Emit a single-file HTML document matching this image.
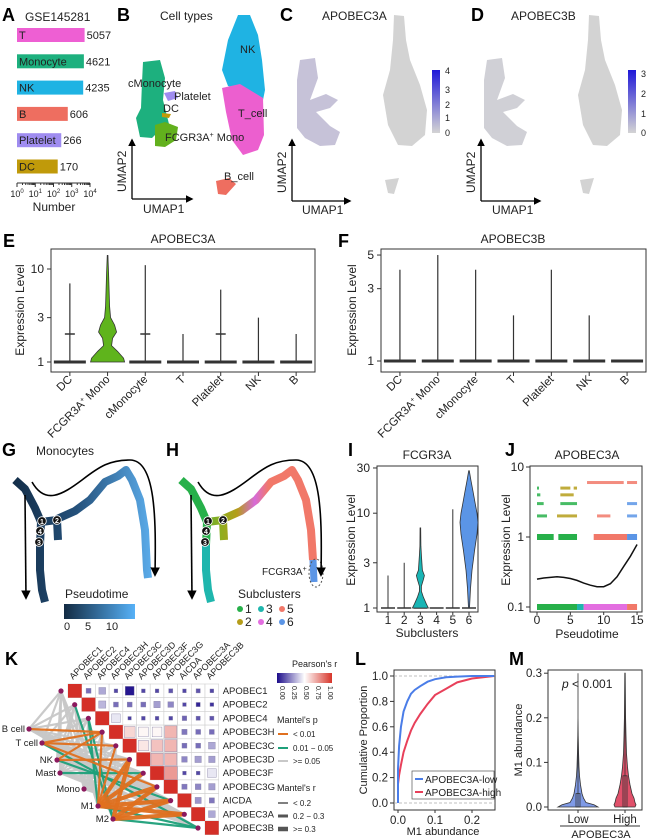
<!DOCTYPE html>
<html><head><meta charset="utf-8">
<style>
html,body{margin:0;padding:0;background:#fff;}
svg{display:block;font-family:"Liberation Sans",Arial,sans-serif;}
.pl{font-weight:bold;font-size:18px;}
.t{font-size:11px;fill:#222;}
.ts{font-size:9px;fill:#222;}
.ax{stroke:#333;stroke-width:1;fill:none;}
</style></head>
<body>
<svg id="fig" width="652" height="840" viewBox="0 0 652 840" xmlns="http://www.w3.org/2000/svg">
<defs>
<marker id="arr" viewBox="0 0 10 10" refX="8" refY="5" markerWidth="6" markerHeight="6" orient="auto"><path d="M0,0 L10,5 L0,10 z" fill="#000"/></marker>
<linearGradient id="ptg" x1="0" x2="1" y1="0" y2="0"><stop offset="0" stop-color="#132b43"/><stop offset="1" stop-color="#56b1f7"/></linearGradient>
<linearGradient id="trajG" gradientUnits="userSpaceOnUse" x1="15" x2="150" y1="0" y2="0"><stop offset="0" stop-color="#142f4a"/><stop offset="0.45" stop-color="#24507a"/><stop offset="1" stop-color="#5aaae8"/></linearGradient>
<linearGradient id="trajH" gradientUnits="userSpaceOnUse" x1="180" x2="316" y1="0" y2="0"><stop offset="0" stop-color="#27b04a"/><stop offset="0.3" stop-color="#8fae1f"/><stop offset="0.42" stop-color="#b59d1a"/><stop offset="0.55" stop-color="#d66ad8"/><stop offset="0.65" stop-color="#f17869"/><stop offset="1" stop-color="#f17869"/></linearGradient>
<linearGradient id="cbar" x1="0" x2="0" y1="1" y2="0"><stop offset="0" stop-color="#d4d4d4"/><stop offset="1" stop-color="#1f18d8"/></linearGradient>
<linearGradient id="prs" x1="0" x2="1" y1="0" y2="0"><stop offset="0" stop-color="#1c0c8a"/><stop offset="0.5" stop-color="#ffffff"/><stop offset="1" stop-color="#d7352a"/></linearGradient>
</defs>

<!-- Panel A -->
<g>
<text class="pl" x="2" y="21">A</text>
<text class="t" x="25" y="21" style="font-size:12px">GSE145281</text>
<g id="barsA"></g>
<line class="ax" x1="17" y1="183" x2="90" y2="183"/>
<g id="ticksA"></g>
<text class="t" x="54" y="211" text-anchor="middle" style="font-size:12px">Number</text>
</g>

<!-- Panel B -->
<g>
<text class="pl" x="117" y="21">B</text>
<text class="t" x="160" y="20" style="font-size:12px">Cell types</text>
<g id="umapB">
<path d="M143,62 L160,60 L165,78 L163,100 L168,120 L170,128 L160,130 L152,138 L140,137 L136,118 L141,108 L142,82 Z" fill="#1db07e"/>
<path d="M155,125 L165,122 L178,127 L176,140 L165,147 L155,146 Z" fill="#62b01d"/>
<path d="M164,93 L175,91 L178,98 L168,101 Z" fill="#9f8cf0"/>
<path d="M162,113 L171,114 L169,118 L162,117 Z" fill="#c09a0a"/>
<path d="M238,15 L250,15 L258,35 L262,60 L265,90 L263,100 L248,92 L228,86 L222,70 L228,40 Z" fill="#1fb3e3"/>
<path d="M222,88 L240,84 L263,98 L264,135 L258,150 L243,155 L232,140 L226,112 Z" fill="#ec5fcf"/>
<path d="M216,181 L229,178 L236,184 L226,195 L218,194 Z" fill="#ee6e60"/>
</g>
<text class="t" x="240" y="53">NK</text>
<text class="t" x="128" y="87">cMonocyte</text>
<text class="t" x="174" y="100">Platelet</text>
<text class="t" x="163" y="112">DC</text>
<text class="t" x="165" y="141">FCGR3A<tspan dy="-4" style="font-size:7px">+</tspan><tspan dy="4"> Mono</tspan></text>
<text class="t" x="238" y="117">T_cell</text>
<text class="t" x="224" y="180">B_cell</text>
<path d="M132,199 L132,140" stroke="#000" stroke-width="1.3" marker-end="url(#arr)"/>
<path d="M132,199 L192,199" stroke="#000" stroke-width="1.3" marker-end="url(#arr)"/>
<text class="t" transform="translate(126,192) rotate(-90)" style="font-size:12px">UMAP2</text>
<text class="t" x="143" y="213" style="font-size:12px">UMAP1</text>
</g>

<!-- Panel C & D -->
<g>
<text class="pl" x="280" y="21">C</text>
<text class="t" x="322" y="20" style="font-size:12px">APOBEC3A</text>
<path d="M300,60 L315,58 L318,78 L310,100 L326,94 L338,100 L330,108 L316,112 L330,126 L340,132 L335,145 L320,146 L305,138 L297,128 L297,80 Z" fill="#c6c2d8"/>
<path d="M394,15 L404,16 L406,40 L410,60 L420,85 L427,110 L425,135 L412,146 L398,145 L388,125 L383,95 L390,70 L393,40 Z" fill="#d3d3d3"/>
<path d="M385,180 L399,178 L394,194 L388,193 Z" fill="#d3d3d3"/>
<rect x="432" y="70" width="8" height="63" fill="url(#cbar)"/>
<text class="ts" x="445" y="74">4</text><text class="ts" x="445" y="93">3</text><text class="ts" x="445" y="108">2</text><text class="ts" x="445" y="121">1</text><text class="ts" x="445" y="136">0</text>
<path d="M292,201 L292,140" stroke="#000" stroke-width="1.3" marker-end="url(#arr)"/>
<path d="M292,201 L350,201" stroke="#000" stroke-width="1.3" marker-end="url(#arr)"/>
<text class="t" transform="translate(286,193) rotate(-90)" style="font-size:12px">UMAP2</text>
<text class="t" x="302" y="214" style="font-size:12px">UMAP1</text>
</g>
<g>
<text class="pl" x="471" y="21">D</text>
<text class="t" x="511" y="20" style="font-size:12px">APOBEC3B</text>
<path d="M487,60 L502,58 L505,78 L497,100 L513,94 L525,100 L517,108 L503,112 L517,126 L527,132 L522,145 L507,146 L492,138 L484,128 L484,80 Z" fill="#d0d0d6"/>
<path d="M589,15 L599,16 L601,40 L605,60 L615,85 L622,110 L620,135 L607,146 L593,145 L583,125 L578,95 L585,70 L588,40 Z" fill="#d3d3d3"/>
<path d="M580,180 L594,178 L589,194 L583,193 Z" fill="#d3d3d3"/>
<rect x="628" y="70" width="8" height="63" fill="url(#cbar)"/>
<text class="ts" x="641" y="77">3</text><text class="ts" x="641" y="97">2</text><text class="ts" x="641" y="117">1</text><text class="ts" x="641" y="136">0</text>
<path d="M481,201 L481,140" stroke="#000" stroke-width="1.3" marker-end="url(#arr)"/>
<path d="M481,201 L540,201" stroke="#000" stroke-width="1.3" marker-end="url(#arr)"/>
<text class="t" transform="translate(475,193) rotate(-90)" style="font-size:12px">UMAP2</text>
<text class="t" x="492" y="214" style="font-size:12px">UMAP1</text>
</g>

<!-- Panel E / F -->
<g>
<text class="pl" x="3" y="247">E</text>
<text class="t" x="183" y="243" text-anchor="middle" style="font-size:12px">APOBEC3A</text>
<rect x="51" y="249" width="264" height="123" fill="none" stroke="#333"/>
<text class="t" transform="translate(24,310) rotate(-90)" text-anchor="middle" style="font-size:12px">Expression Level</text>
<g id="plotE"></g>
</g>
<g>
<text class="pl" x="338" y="247">F</text>
<text class="t" x="513" y="243" text-anchor="middle" style="font-size:12px">APOBEC3B</text>
<rect x="381" y="249" width="265" height="123" fill="none" stroke="#333"/>
<text class="t" transform="translate(356,310) rotate(-90)" text-anchor="middle" style="font-size:12px">Expression Level</text>
<g id="plotF"></g>
</g>

<!-- Panel G -->
<g>
<text class="pl" x="2" y="456">G</text>
<text class="t" x="36" y="455" style="font-size:12px">Monocytes</text>
<path d="M15,480 L25,489 L35,508 L41,522 L40,545 L40,570 L42,590 L45,602 M41,522 L57,520 L58,540 M57,519 L75,511 L90,500 L105,482 L118,476 L126,470 L132,480 L140,500 L145,530 L147,570 L148,578" stroke="url(#trajG)" stroke-width="8" fill="none" stroke-linejoin="round"/>
<path d="M25,495 L26,598" stroke="#000" stroke-width="1.6" fill="none" marker-end="url(#arr)"/>
<path d="M32,482 C45,505 62,495 82,480 C100,466 110,460 130,460 C156,460 156,520 155,575" stroke="#000" stroke-width="1.6" fill="none" marker-end="url(#arr)"/>
<g id="nodesG"></g>
<text class="t" x="65" y="598" style="font-size:12px">Pseudotime</text>
<rect x="64" y="604" width="71" height="15" fill="url(#ptg)"/>
<text class="t" x="67" y="630" text-anchor="middle">0</text><text class="t" x="88" y="630" text-anchor="middle">5</text><text class="t" x="112" y="630" text-anchor="middle">10</text>
</g>

<!-- Panel H -->
<g>
<text class="pl" x="166" y="456">H</text>
<path d="M181,480 L191,489 L201,508 L207,522 L206,545" stroke="#27b04a" stroke-width="8" fill="none"/>
<path d="M206,545 L206,570 L208,590 L211,602" stroke="#1fb6ad" stroke-width="8" fill="none"/>
<path d="M207,522 L223,520 L224,540 M223,519 L241,511 L256,500 L271,482 L284,476 L292,470 L298,480 L306,500 L311,530 L313,560" stroke="url(#trajH)" stroke-width="8" fill="none" stroke-linejoin="round"/>
<path d="M313,560 L314,582" stroke="#5b95e6" stroke-width="7" fill="none"/>
<ellipse cx="316" cy="573" rx="7" ry="14" fill="none" stroke="#555" stroke-dasharray="2,2"/>
<text class="ts" x="262" y="575" style="font-size:10px">FCGR3A<tspan dy="-4" style="font-size:7px">+</tspan></text>
<path d="M191,495 L192,598" stroke="#000" stroke-width="1.6" fill="none" marker-end="url(#arr)"/>
<path d="M198,482 C211,505 228,495 248,480 C266,466 276,460 296,460 C322,460 322,520 321,575" stroke="#000" stroke-width="1.6" fill="none" marker-end="url(#arr)"/>
<g id="nodesH"></g>
<text class="t" x="238" y="598" style="font-size:12px">Subclusters</text>
<g id="legH"></g>
</g>

<!-- Panel I -->
<g>
<text class="pl" x="348" y="456">I</text>
<text class="t" x="427" y="459" text-anchor="middle" style="font-size:12px">FCGR3A</text>
<rect x="377" y="466" width="101" height="146" fill="none" stroke="#333"/>
<text class="t" transform="translate(355,540) rotate(-90)" text-anchor="middle" style="font-size:12px">Expression Level</text>
<text class="t" x="427" y="637" text-anchor="middle" style="font-size:12px">Subclusters</text>
<g id="plotI"></g>
</g>

<!-- Panel J -->
<g>
<text class="pl" x="505" y="456">J</text>
<text class="t" x="587" y="459" text-anchor="middle" style="font-size:12px">APOBEC3A</text>
<rect x="530" y="466" width="112" height="146" fill="none" stroke="#333"/>
<text class="t" transform="translate(510,540) rotate(-90)" text-anchor="middle" style="font-size:12px">Expression Level</text>
<text class="t" x="587" y="638" text-anchor="middle" style="font-size:12px">Pseudotime</text>
<g id="plotJ"></g>
</g>

<!-- Panel K -->
<g>
<text class="pl" x="5" y="665">K</text>
<g id="plotK"></g>
<text class="ts" x="292" y="667">Pearson's r</text>
<rect x="277" y="673" width="55" height="10" fill="url(#prs)"/>
<text class="ts" transform="translate(280,686) rotate(90)" style="font-size:7px">0.00</text>
<text class="ts" transform="translate(292,686) rotate(90)" style="font-size:7px">0.25</text>
<text class="ts" transform="translate(304,686) rotate(90)" style="font-size:7px">0.50</text>
<text class="ts" transform="translate(316,686) rotate(90)" style="font-size:7px">0.75</text>
<text class="ts" transform="translate(328,686) rotate(90)" style="font-size:7px">1.00</text>
<text class="ts" x="277" y="723">Mantel's p</text>
<line x1="278" y1="734" x2="288" y2="734" stroke="#e0701f" stroke-width="2"/><text class="ts" x="293" y="737" style="font-size:8px">&lt; 0.01</text>
<line x1="278" y1="748" x2="288" y2="748" stroke="#1ea07a" stroke-width="2"/><text class="ts" x="293" y="751" style="font-size:8px">0.01 − 0.05</text>
<line x1="278" y1="761" x2="288" y2="761" stroke="#c8c8c8" stroke-width="2"/><text class="ts" x="293" y="764" style="font-size:8px">&gt;= 0.05</text>
<text class="ts" x="277" y="791">Mantel's r</text>
<line x1="278" y1="803" x2="288" y2="803" stroke="#555" stroke-width="1.5"/><text class="ts" x="293" y="806" style="font-size:8px">&lt; 0.2</text>
<line x1="278" y1="816" x2="288" y2="816" stroke="#555" stroke-width="3"/><text class="ts" x="293" y="819" style="font-size:8px">0.2 − 0.3</text>
<line x1="278" y1="829" x2="288" y2="829" stroke="#555" stroke-width="4.5"/><text class="ts" x="293" y="832" style="font-size:8px">&gt;= 0.3</text>
</g>

<!-- Panel L -->
<g>
<text class="pl" x="355" y="665">L</text>
<rect x="394" y="670" width="101" height="140" fill="none" stroke="#333"/>
<text class="t" transform="translate(367,740) rotate(-90)" text-anchor="middle" style="font-size:11px">Cumulative Proportion</text>
<text class="t" x="443" y="835" text-anchor="middle" style="font-size:11px">M1 abundance</text>
<g id="plotL"></g>
</g>

<!-- Panel M -->
<g>
<text class="pl" x="509" y="665">M</text>
<rect x="548" y="670" width="94" height="140" fill="none" stroke="#333"/>
<text class="t" transform="translate(522,740) rotate(-90)" text-anchor="middle" style="font-size:11px">M1 abundance</text>
<text class="t" x="562" y="688" style="font-size:12px"><tspan font-style="italic">p</tspan> &lt; 0.001</text>
<line x1="560" y1="826" x2="640" y2="826" stroke="#333"/>
<text class="t" x="601" y="838" text-anchor="middle">APOBEC3A</text>
<g id="plotM"></g>
</g>
</svg>

<script>
const NS="http://www.w3.org/2000/svg";
function mk(tag,attrs,parent,txt){const e=document.createElementNS(NS,tag);for(const k in attrs)e.setAttribute(k,attrs[k]);if(txt!==undefined)e.textContent=txt;parent.appendChild(e);return e;}

/* ---------- Panel A data ---------- */
const cellTypesA=["T","Monocyte","NK","B","Platelet","DC"];
const countsA=[5057,4621,4235,606,266,170];
const colorsA=["#ee5fd3","#1db07e","#1fb3e3","#ee6e60","#9f8cf0","#c09a0a"];
const ticksA=[0,1,2,3,4];
const xA=v=>17+18.25*Math.log10(v);
const gA=document.getElementById("barsA");
cellTypesA.forEach((c,i)=>{const y=28+i*26.3;
 const r=mk("rect",{x:17,y:y,width:xA(countsA[i])-17,height:14,fill:colorsA[i]},gA);
 
 
 mk("text",{x:19,y:y+11,class:"t"},gA,c);
 mk("text",{x:xA(countsA[i])+2,y:y+11,class:"t"},gA,String(countsA[i]));
});
const tA=document.getElementById("ticksA");
ticksA.forEach(p=>{const x=17+18.25*p;mk("line",{x1:x,y1:183,x2:x,y2:187,stroke:"#333"},tA);
 const t=mk("text",{x:x,y:197,class:"ts","text-anchor":"middle"},tA,"10");mk("tspan",{dy:-4,style:"font-size:6px"},t,String(p));
 if(p<4)for(let k=2;k<10;k++){const xx=x+18.25*Math.log10(k);mk("line",{x1:xx,y1:183,x2:xx,y2:185,stroke:"#333"},tA);}
});

/* ---------- Panel E / F data ---------- */
const catsEF=["DC","FCGR3A+ Mono","cMonocyte","T","Platelet","NK","B"];
const maxE=[7,14,11,2,6,3,2];
const medE=[2,14,2,1,2,1,1];
const maxF=[4,5,4,2,4,2,1];
const ticksE=[1,3,10];
const ticksF=[1,3,5];
const monoViolinVals=[1,1.1,1.3,1.5,1.8,2.1,2.5,3,4,6,9,14];
const monoViolinWidth=[17,16,10,4,5,9,7,3,2,1.5,1,0.3];
function violinPlot(gid,x0,x1,yfun,maxes,ticks,green){
 const g=document.getElementById(gid);const step=(x1-x0)/7;
 ticks.forEach(t=>{const y=yfun(t);mk("line",{x1:x0-4,y1:y,x2:x0,y2:y,stroke:"#333"},g);mk("text",{x:x0-7,y:y+4,class:"t","text-anchor":"end",style:"font-size:12px"},g,String(t));});
 catsEF.forEach((c,i)=>{const cx=x0+step*(i+0.5);
  mk("line",{x1:cx,y1:372,x2:cx,y2:376,stroke:"#333"},g);
  const l=mk("line",{x1:cx,y1:yfun(1),x2:cx,y2:yfun(maxes[i]),stroke:"#333","stroke-width":1.2},g);
  
  
  if(green && i===1){let dR="",dL="";monoViolinVals.forEach((v,k)=>{dR+=(k?"L":"M")+(cx+monoViolinWidth[k])+","+yfun(v);});
   for(let k=monoViolinVals.length-1;k>=0;k--)dL+="L"+(cx-monoViolinWidth[k])+","+yfun(monoViolinVals[k]);
   mk("path",{d:dR+dL+"Z",fill:"#5fb41c",stroke:"#333","stroke-width":0.8},g);}
  else mk("rect",{x:cx-16,y:yfun(1)-1.5,width:32,height:3,fill:"#333"},g);
  const lab=mk("text",{class:"t",transform:`translate(${cx+3},${380}) rotate(-45)`,"text-anchor":"end",style:"font-size:11.5px"},g);
  if(c.indexOf("+")>0){lab.textContent="FCGR3A";mk("tspan",{dy:-4,style:"font-size:7px"},lab,"+");mk("tspan",{dy:4},lab," Mono");} else lab.textContent=c;
 });
}
violinPlot("plotE",51,315,v=>362-93*Math.log10(v),maxE,ticksE,true);
violinPlot("plotF",381,646,v=>361-151.6*Math.log10(v),maxF,ticksF,false);
(function(){const g=document.getElementById("plotE");const step=264/7;medE.forEach((m,i)=>{if(m>1&&m<14){const cx=51+step*(i+0.5),y=362-93*Math.log10(m);mk("line",{x1:cx-5,y1:y,x2:cx+5,y2:y,stroke:"#333","stroke-width":1.5},g);}});})();

/* ---------- Trajectory nodes G/H ---------- */
const nodeLabels=["1","2","4","3"];
function nodes(gid,dx){const g=document.getElementById(gid);const pos=[[42,521],[57,520],[40,531],[39,542]];
 pos.forEach((p,i)=>{mk("circle",{cx:p[0]+dx,cy:p[1],r:4.3,fill:"#111",stroke:"#fff","stroke-width":0.8},g);mk("text",{x:p[0]+dx,y:p[1]+3,"text-anchor":"middle",fill:"#fff",style:"font-size:7px;font-weight:bold"},g,nodeLabels[i]);});}
nodes("nodesG",0);nodes("nodesH",166);
const subIds=["1","3","5","2","4","6"];
const subCols=["#27b04a","#1fb6ad","#f17869","#b59d1a","#e36ee0","#5b95e6"];
(function(){const g=document.getElementById("legH");subIds.forEach((s,i)=>{const x=240+(i%3)*21,y=i<3?613:626;
 mk("circle",{cx:x,cy:y-4,r:3,fill:subCols[i]},g);mk("text",{x:x+5,y:y,class:"t",style:"font-size:12px"},g,s);});})();

/* ---------- Panel I ---------- */
const subclustersI=["1","2","3","4","5","6"];
const maxI=[2.2,3,7,1,11,28];
const ticksI=[1,3,10,30];
const v3Vals=[1,1.1,1.3,1.5,1.7,2,2.2,2.5,3,3.6,4.5,7];
const v3W=[8,6,3,1,1,3,4,2,1.5,1,0.5,0.3];
const v6Vals=[1,1.6,2.5,4,6,8,10,13,17,22,28];
const v6W=[0.5,1.5,3,5.5,8,9,8,6,4,2,0.3];
(function(){const g=document.getElementById("plotI");const y=v=>608-94.8*Math.log10(v);const x=i=>388+16.2*i;
 ticksI.forEach(t=>{mk("line",{x1:373,y1:y(t),x2:377,y2:y(t),stroke:"#333"},g);mk("text",{x:370,y:y(t)+4,class:"t","text-anchor":"end",style:"font-size:12px"},g,String(t));});
 subclustersI.forEach((s,i)=>{const cx=x(i);mk("line",{x1:cx,y1:612,x2:cx,y2:615,stroke:"#333"},g);mk("text",{x:cx,y:624,class:"t","text-anchor":"middle",style:"font-size:12px"},g,s);
  const l=mk("line",{x1:cx,y1:y(1),x2:cx,y2:y(maxI[i]),stroke:"#333","stroke-width":1},g);
  
  
  mk("line",{x1:cx-7,y1:y(1),x2:cx+7,y2:y(1),stroke:"#333","stroke-width":1.5},g);});
 function vp(cx,vals,w,col){let d="";vals.forEach((v,k)=>d+=(k?"L":"M")+(cx+w[k])+","+y(v));for(let k=vals.length-1;k>=0;k--)d+="L"+(cx-w[k])+","+y(vals[k]);mk("path",{d:d+"Z",fill:col,stroke:"#333","stroke-width":0.8},g);}
 vp(x(2),v3Vals,v3W,"#19b5b5");vp(x(5),v6Vals,v6W,"#5b95e6");
})();

/* ---------- Panel J ---------- */
const ticksJy=[0.1,1,10];
const ticksJx=[0,5,10,15];
const bandStart=[0,3,6,7,13.5, 0,3.2,8.5,13.5, 0,3,9,13.5, 0,3.5,13.5, 0,3.5, 0,3.5,5.5,7.5,13.5];
const bandEnd=  [3,6,7,13.5,15, 2.5,6,13.5,15, 1.5,6,11,15, 1,6,15, 0.5,5.5, 0.3,5,6,13,15];
const bandLevel=[0.1,0.1,0.1,0.1,0.1, 1,1,1,1, 2,2,2,2, 3,3,3, 4,4, 5,5,5,6,6];
const bandColIdx=[0,0,1,4,2, 0,0,2,5, 0,3,2,5, 0,0,5, 0,3, 0,3,3,2,2];
const bandCols=["#27b04a","#1fb6ad","#f17869","#b59d1a","#e36ee0","#5b95e6"];
const smoothT=[0,1,2,3,4,5,6,7,8,9,10,11,12,13,14,15];
const smoothV=[0.25,0.26,0.265,0.27,0.265,0.255,0.24,0.22,0.205,0.195,0.195,0.215,0.27,0.38,0.53,0.78];
(function(){const g=document.getElementById("plotJ");const y=v=>537-70*Math.log10(v);const x=t=>537+6.67*t;
 ticksJy.forEach(t=>{mk("line",{x1:526,y1:y(t),x2:530,y2:y(t),stroke:"#333"},g);mk("text",{x:524,y:y(t)+4,class:"t","text-anchor":"end",style:"font-size:12px"},g,String(t));});
 ticksJx.forEach(t=>{mk("line",{x1:x(t),y1:612,x2:x(t),y2:615,stroke:"#333"},g);mk("text",{x:x(t),y:624,class:"t","text-anchor":"middle",style:"font-size:12px"},g,String(t));});
 bandStart.forEach((s,i)=>{const yy=y(bandLevel[i]);const dense=bandLevel[i]<=1;
  const r=mk("rect",{x:x(s),y:yy-(dense?3:1.5),width:Math.max(1.5,x(bandEnd[i])-x(s)),height:dense?6:3,fill:bandCols[bandColIdx[i]],opacity:dense?1:0.85},g);
  
  
 });
 let d="";smoothT.forEach((t,k)=>d+=(k?"L":"M")+x(t)+","+y(smoothV[k]));
 const p=mk("path",{d:d,fill:"none",stroke:"#111","stroke-width":1.5},g);
 
 
})();

/* ---------- Panel K ---------- */
const genesK=["APOBEC1","APOBEC2","APOBEC4","APOBEC3H","APOBEC3C","APOBEC3D","APOBEC3F","APOBEC3G","AICDA","APOBEC3A","APOBEC3B"];
const pearsonRows=[
 [1,0.2,0.32,0.12,0.02,0.12,0.12,0.15,0.12,0.15,0.12],
 [0,1,0.35,0.2,0.2,0.2,0.3,0.25,0.12,0.05,0.08],
 [0,0,1,0.45,0.1,0.12,0.12,0.12,0.18,0.15,0.15],
 [0,0,0,1,0.6,0.52,0.52,0.68,0.22,0.2,0.2],
 [0,0,0,0,1,0.56,0.65,0.68,0.2,0.2,0.32],
 [0,0,0,0,0,1,0.68,0.68,0.25,0.3,0.3],
 [0,0,0,0,0,0,1,0.75,0.12,0.12,0.45],
 [0,0,0,0,0,0,0,1,0.22,0.25,0.3],
 [0,0,0,0,0,0,0,0,1,0.28,0.22],
 [0,0,0,0,0,0,0,0,0,1,0.32],
 [0,0,0,0,0,0,0,0,0,0,1]];
const envNames=["B cell","T cell","NK","Mast","Mono","M1","M2"];
const mantelP=[
 [2,2,2,0,2,2,2,2,2,2,2],
 [2,2,2,0,0,2,2,0,2,2,1],
 [2,2,2,0,2,0,2,2,1,2,2],
 [2,2,2,2,2,2,1,2,2,2,2],
 [2,2,2,2,2,2,2,2,2,2,2],
 [2,2,1,0,0,0,0,0,0,0,1],
 [2,1,1,2,2,0,2,0,0,0,1]];
const mantelR=[
 [1,1,1,1,1,1,1,1,1,1,1],
 [1,1,1,1,1,1,1,1,1,1,1],
 [1,1,1,1,1,1,1,1,1,1,1],
 [1,1,1,1,1,1,1,1,1,1,1],
 [1,1,1,1,1,1,1,1,1,1,1],
 [1,1,1,1,1,2,2,2,2,2,1],
 [1,1,1,1,1,2,1,2,2,2,1]];
(function(){const g=document.getElementById("plotK");const cs=13.7,mx=68,my=684;
 const envPos=[[29,729],[42,743],[57,760],[60,773],[84,789],[98,806],[113,819]];
 const pcol=["#e0701f","#1ea07a","#c8c8c8"];const rw=[1.6,2.2,4.2];
 [2,1,0].forEach(cat=>{mantelP.forEach((row,e)=>row.forEach((p,j)=>{if(p!==cat)return;
  const ln=mk("line",{x1:envPos[e][0],y1:envPos[e][1],x2:mx-7+cs*j,y2:my+cs*j+7,stroke:pcol[p],"stroke-width":rw[mantelR[e][j]],opacity:0.95},g);
  
  }));});
 for(let i=0;i<11;i++)for(let j=i;j<11;j++){mk("rect",{x:mx+cs*j,y:my+cs*i,width:cs,height:cs,fill:"#fff",stroke:"#d0d0d0","stroke-width":0.6},g);}
 function col(r){const lerp=(a,b,t)=>Math.round(a+(b-a)*t);if(r<0.5){const t=r/0.5;return `rgb(${lerp(28,255,t)},${lerp(12,255,t)},${lerp(138,255,t)})`;}const t=(r-0.5)/0.5;return `rgb(${lerp(255,215,t)},${lerp(255,53,t)},${lerp(255,42,t)})`;}
 pearsonRows.forEach((row,i)=>row.forEach((r,j)=>{if(j<i)return;let s=j===i?cs:Math.max(2.5,cs*Math.min(1,0.25+Math.abs(r-0.1)*1.1));if(r<0.05&&j!==i)s=cs*0.65;
  const c=mk("rect",{x:mx+cs*j+(cs-s)/2,y:my+cs*i+(cs-s)/2,width:s,height:s,fill:j===i?"#d42f27":col(r),stroke:j===i?"none":"#8a85a8","stroke-width":0.4},g);
  
  }));
 genesK.forEach((gn,i)=>{mk("text",{x:mx+cs*11+4,y:my+cs*i+10,class:"ts",style:"font-size:9.5px"},g,gn);
  mk("text",{class:"ts",transform:`translate(${mx+cs*i+5},${my-4}) rotate(-45)`,style:"font-size:9px"},g,gn);
  mk("circle",{cx:mx-7+cs*i,cy:my+cs*i+7,r:2.6,fill:"#8b1a5e"},g);});
 envNames.forEach((n,e)=>{mk("circle",{cx:envPos[e][0],cy:envPos[e][1],r:2.6,fill:"#8b1a5e"},g);mk("text",{x:envPos[e][0]-4,y:envPos[e][1]+3,class:"ts","text-anchor":"end",style:"font-size:9.5px"},g,n);});
})();

/* ---------- Panel L ---------- */
const abundL=[0,0.003,0.008,0.015,0.025,0.035,0.045,0.06,0.08,0.1,0.13,0.16,0.2,0.26];
const cumLow=[0.27,0.45,0.6,0.72,0.8,0.86,0.89,0.92,0.955,0.975,0.99,0.995,1,1];
const cumHigh=[0.15,0.22,0.3,0.4,0.49,0.57,0.63,0.7,0.78,0.85,0.9,0.95,0.98,1];
const ticksLy=[0,0.2,0.4,0.6,0.8,1];
const ticksLx=[0,0.1,0.2];
(function(){const g=document.getElementById("plotL");const x=v=>398+370*v;const y=p=>803-127*p;
 [0,1].forEach(p=>mk("line",{x1:394,y1:y(p),x2:495,y2:y(p),stroke:"#aaa","stroke-dasharray":"3,2","stroke-width":0.7},g));
 ticksLy.forEach(t=>{mk("line",{x1:390,y1:y(t),x2:394,y2:y(t),stroke:"#333"},g);mk("text",{x:388,y:y(t)+4,class:"t","text-anchor":"end",style:"font-size:11.5px"},g,t.toFixed(1));});
 ticksLx.forEach(t=>{mk("line",{x1:x(t),y1:810,x2:x(t),y2:813,stroke:"#333"},g);mk("text",{x:x(t),y:824,class:"t","text-anchor":"middle",style:"font-size:11.5px"},g,t.toFixed(1));});
 function step(vals,c,nm){let d="M"+x(0)+","+y(0)+"L"+x(abundL[0])+","+y(vals[0]);for(let k=1;k<abundL.length;k++)d+="L"+x(Math.min(abundL[k],0.26))+","+y(vals[k]);
  const p=mk("path",{d:d,fill:"none",stroke:c,"stroke-width":2},g);}
 step(cumHigh,"#e8405a","ecdf-high");step(cumLow,"#4a7de8","ecdf-low");
 mk("rect",{x:412,y:771,width:82,height:28,fill:"#fff",stroke:"#555","stroke-width":0.7},g);
 mk("line",{x1:415,y1:779,x2:423,y2:779,stroke:"#4a7de8","stroke-width":2},g);mk("text",{x:425,y:783,class:"ts",style:"font-size:10px"},g,"APOBEC3A-low");
 mk("line",{x1:415,y1:792,x2:423,y2:792,stroke:"#e8405a","stroke-width":2},g);mk("text",{x:425,y:796,class:"ts",style:"font-size:10px"},g,"APOBEC3A-high");
})();

/* ---------- Panel M ---------- */
const groupsM=["Low","High"];
const ticksM=[0,0.1,0.2,0.3];
const violVals=[0,0.005,0.01,0.02,0.03,0.05,0.07,0.09,0.12,0.16,0.2,0.25,0.3];
const widthLow=[20,16,8,5.5,4,2.5,1.5,1,0.6,0.2,0,0,0];
const widthHigh=[10,11,10,9,7,5,3.5,2.5,1.5,1,0.6,0.4,0.2];
(function(){const g=document.getElementById("plotM");const y=v=>807-446*v;const xs=[578,625];
 ticksM.forEach(t=>{mk("line",{x1:544,y1:y(t),x2:548,y2:y(t),stroke:"#333"},g);mk("text",{x:542,y:y(t)+4,class:"t","text-anchor":"end",style:"font-size:11.5px"},g,t.toFixed(1));});
 [widthLow,widthHigh].forEach((w,gi)=>{const cx=xs[gi];let d="";violVals.forEach((v,k)=>d+=(k?"L":"M")+(cx+w[k])+","+y(v));for(let k=violVals.length-1;k>=0;k--)d+="L"+(cx-w[k])+","+y(violVals[k]);
  const p=mk("path",{d:d+"Z",fill:gi?"#e0506a":"#7f9ae6",stroke:"#333","stroke-width":0.8},g);
  
  
  mk("line",{x1:cx,y1:y(0),x2:cx,y2:y(gi?0.3:0.16),stroke:"#333","stroke-width":0.8},g);
  mk("rect",{x:cx-2,y:y(gi?0.07:0.03),width:4,height:y(0)-y(gi?0.07:0.03),fill:"none",stroke:"#333","stroke-width":0.8},g);
  mk("line",{x1:cx,y1:810,x2:cx,y2:813,stroke:"#333"},g);
  mk("text",{x:cx,y:823,class:"t","text-anchor":"middle",style:"font-size:11.5px"},g,groupsM[gi]);});
})();
</script>
</body></html>
